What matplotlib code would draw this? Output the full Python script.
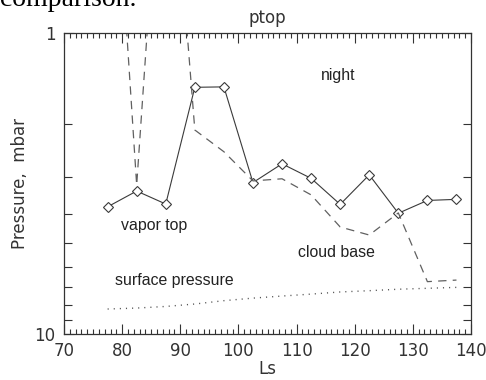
import matplotlib
matplotlib.use("Agg")
import matplotlib.pyplot as plt
from matplotlib.ticker import FixedLocator, NullFormatter, FixedFormatter, MultipleLocator

plt.rcParams['lines.scale_dashes'] = False

ls_vals = [77.5, 82.5, 87.5, 92.5, 97.5, 102.5, 107.5, 112.5, 117.5, 122.5, 127.5, 132.5, 137.5]
vapor_top = [3.78, 3.35, 3.70, 1.515, 1.51, 3.14, 2.72, 3.04, 3.71, 2.96, 3.97, 3.60, 3.57]
cloud_base = [0.105, 3.2, 0.125, 2.10, 2.48, 3.10, 3.05, 3.45, 4.41, 4.69, 3.96, 6.70, 6.62]
surface_p = [8.26, 8.2, 8.1, 7.95, 7.75, 7.6, 7.48, 7.37, 7.25, 7.18, 7.1, 7.05, 7.0]

xticks = [70, 80, 90, 100, 110, 120, 130, 140]
yticks = [1, 10]

ink = '#333333'

fig = plt.figure(figsize=(4.86, 3.80), dpi=100)
ax = fig.add_axes([64/486, 1-334/380, 407/486, 301/380])

ax.plot(ls_vals, vapor_top, '-', color='#3a3a3a', lw=0.8, marker='D', ms=5,
        mfc='white', mec='#3a3a3a', mew=0.8)
ax.plot(ls_vals, cloud_base, color='#606060', lw=0.9, ls=(0, (6, 4.5)))
ax.plot(ls_vals, surface_p, color='#555555', lw=1.0, ls=(0, (0.8, 3.6)))

ax.set_yscale('log')
ax.set_xlim(70, 140)
ax.set_ylim(10, 1)

ax.xaxis.set_major_locator(FixedLocator(xticks))
ax.xaxis.set_minor_locator(MultipleLocator(1))
ax.yaxis.set_major_locator(FixedLocator(yticks))
ax.yaxis.set_major_formatter(FixedFormatter(['1', '10']))
ax.yaxis.set_minor_locator(FixedLocator([2, 3, 4, 5, 6, 7, 8, 9]))
ax.yaxis.set_minor_formatter(NullFormatter())

ax.tick_params(which='both', direction='in', top=True, right=True, color=ink, width=0.8,
               labelsize=12, labelcolor=ink)
ax.tick_params(axis='x', which='major', length=7, pad=6)
ax.tick_params(axis='x', which='minor', length=3.5)
ax.tick_params(axis='y', which='major', length=7, pad=6)
ax.tick_params(axis='y', which='minor', length=6)
for s in ax.spines.values():
    s.set_color(ink)
    s.set_linewidth(0.9)

ax.set_title('ptop', fontsize=12, color=ink, pad=7)
ax.set_xlabel('Ls', fontsize=12, color=ink, labelpad=0)
ax.set_ylabel('Pressure,  mbar', fontsize=12, color=ink, labelpad=4)

lab = dict(fontsize=11.4, family='Liberation Sans', color='#222222', va='center', transform=ax.transAxes)
ax.text(0.631, 0.860, 'night', **lab)
ax.text(0.139, 0.359, 'vapor top', **lab)
ax.text(0.574, 0.270, 'cloud base', **lab)
ax.text(0.125, 0.177, 'surface pressure', **lab)

fig.text(0.0, 1 - 6.5/380, 'comparison.', family='Liberation Serif', fontsize=20,
         va='baseline', ha='left', color='black')

fig.savefig('out.png', dpi=100)
